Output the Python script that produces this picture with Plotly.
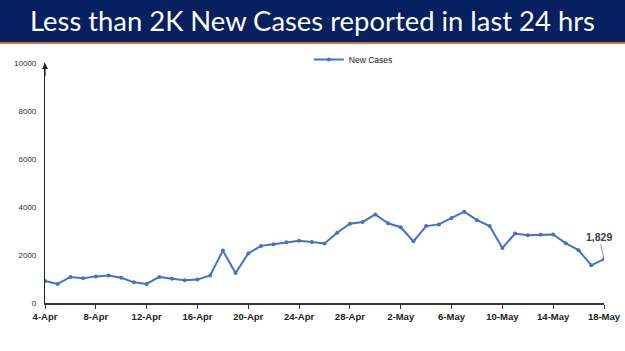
import plotly.graph_objects as go
import pandas as pd

dates = pd.date_range("2022-04-04", "2022-05-18", freq="D")
new_cases = [913, 795, 1086, 1033, 1109, 1150, 1054, 861, 796, 1088,
             1007, 949, 975, 1150, 2183, 1247, 2067, 2380, 2451, 2527,
             2593, 2541, 2483, 2927, 3303, 3377, 3688, 3324, 3157, 2568,
             3205, 3275, 3545, 3805, 3451, 3207, 2288, 2897, 2827, 2841,
             2858, 2487, 2202, 1569, 1829]
tick_dates = pd.date_range("2022-04-04", "2022-05-18", freq="4D")
tick_labels = [d.strftime("%-d-%b") for d in tick_dates]
y_ticks = [0, 2000, 4000, 6000, 8000, 10000]
y_tick_labels = [str(v) for v in y_ticks]
title_text = "Less than 2K New Cases reported in last 24 hrs"
series_name = "New Cases"
last_label = "1,829"

fig = go.Figure()
fig.add_trace(go.Scatter(
    x=dates, y=new_cases, mode="lines+markers", name=series_name,
    line=dict(color="#4472C4", width=2),
    marker=dict(color="#4472C4", size=4),
))

fig.update_layout(
    width=625, height=351,
    margin=dict(l=45, r=21, t=63, b=48),
    paper_bgcolor="white", plot_bgcolor="white",
    showlegend=True,
    legend=dict(orientation="h", x=0.472, y=1.015, xanchor="left", yanchor="middle",
                font=dict(family="Liberation Sans", size=8.5, color="#222"),
                itemwidth=30, bgcolor="rgba(0,0,0,0)"),
    xaxis=dict(range=[dates[0], dates[-1]], tickvals=list(tick_dates), ticktext=tick_labels,
               automargin=False,
               showgrid=False, showline=True, linecolor="#333", linewidth=1.5,
               ticks="outside", ticklen=4, tickcolor="#333",
               tickfont=dict(family="Liberation Sans", size=9.5, color="#222", weight="bold")),
    yaxis=dict(range=[0, 10000], tickvals=y_ticks, ticktext=y_tick_labels,
               automargin=False,
               showgrid=False, zeroline=False,
               showline=True, linecolor="#222", linewidth=1.2,
               ticks="", ticklabelstandoff=6,
               tickfont=dict(family="Liberation Sans", size=8, color="#333")),
    shapes=[
        dict(type="rect", xref="paper", yref="paper", x0=-0.1, x1=1.1,
             y0=1.0 + (63 - 42) / 240, y1=1.0 + 63 / 240 + 0.1,
             fillcolor="#062060", line_width=0, layer="above"),
        dict(type="rect", xref="paper", yref="paper", x0=-0.1, x1=1.1,
             y0=1.0 + (63 - 44) / 240, y1=1.0 + (63 - 42) / 240,
             fillcolor="#E0703A", line_width=0, layer="above"),
    ],
    annotations=[
        dict(text=title_text, xref="paper", yref="paper", x=0.5 - 12 / 559, y=1.0 + (63 - 21) / 240,
             xanchor="center", yanchor="middle", showarrow=False,
             font=dict(family="Lato", size=27.4, color="white")),
        dict(x=dates[-1], y=new_cases[-1], text=last_label, showarrow=True,
             arrowhead=0, arrowcolor="#999", arrowwidth=1, ax=-5, ay=-22, standoff=2,
             font=dict(family="Liberation Sans", size=10.5, color="#404040", weight="bold")),
        dict(x=0, y=10000, xref="paper", yref="y", ax=0, ay=9400, axref="pixel",
             ayref="y", showarrow=True, arrowhead=2, arrowsize=1, arrowwidth=1.2,
             arrowcolor="#222", text=""),
    ],
)
fig.write_html("out.html")
